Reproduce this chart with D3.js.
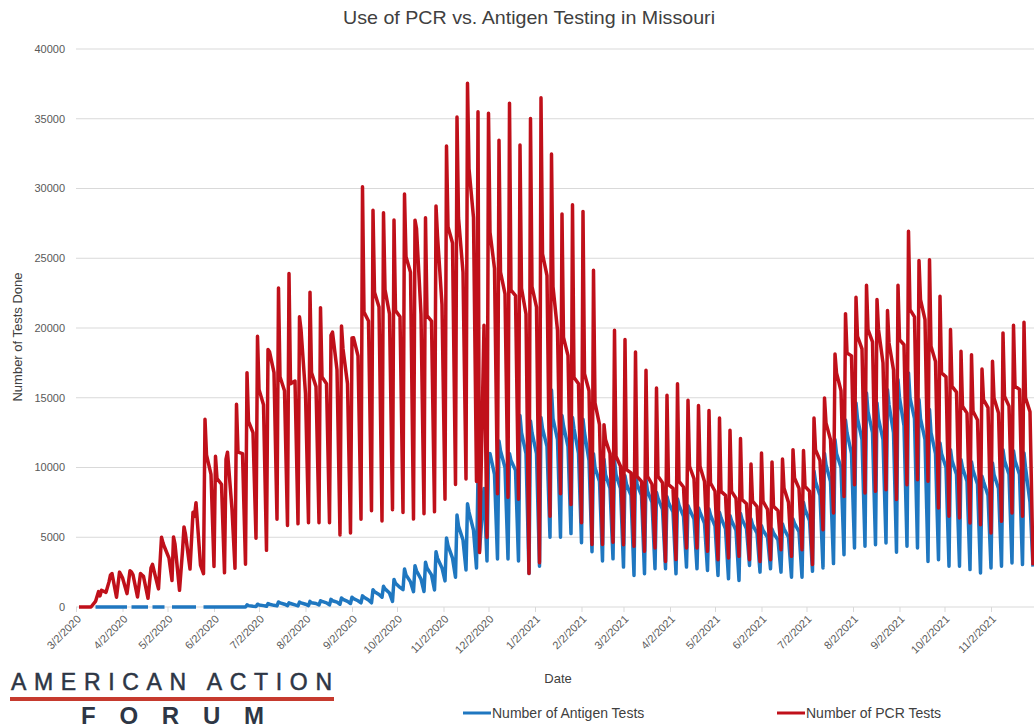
<!DOCTYPE html>
<html>
<head>
<meta charset="utf-8">
<script src="https://cdn.jsdelivr.net/npm/d3@7"></script>
<style>
  body { margin: 0; background: #fff; }
  svg { display: block; font-family: "Liberation Sans", Arial, sans-serif; }
</style>
</head>
<body>
<svg id="chart" width="1034" height="728"></svg>
<script>
// Weekly readings, one entry per week starting 3/4/2020.
// Each week is drawn as 4 daily points: day 0, day 1, day 4 and day 6.
const pcrPeak = [
  0, 0, 800, 2300, 2300, 2500, 2300, 3060, 4600, 5020,
  5740, 6500, 13460, 10800, 10600, 14530, 16800, 19400, 18460, 22870,
  23900, 20800, 22570, 21460, 19480, 20150, 19280, 30120, 28440, 28260,
  27740, 29600, 27730, 27910, 28750, 33040, 35130, 37550, 35500, 35390,
  33460, 36120, 33120, 35020, 36510, 32470, 28180, 28830, 28360, 24140,
  13070, 19840, 19170, 18280, 16970, 15700, 15180, 16010, 14820, 14440,
  14080, 13550, 12670, 12070, 10250, 11040, 10400, 10610, 11280, 11210,
  13550, 14990, 18140, 21030, 22200, 23060, 22040, 21250, 23060, 26940,
  24830, 24900, 22270, 19890, 18330, 18090, 17060, 17610, 19650, 20200,
  20410
];
const pcrNext = [
  0, 0, 1200, 2400, 2100, 2300, 2200, 2600, 4300, 4500,
  5200, 7480, 10900, 9200, 11100, 11100, 13300, 15600, 18300, 16500,
  16000, 19900, 16800, 16500, 19700, 18500, 19300, 21140, 22570, 22750,
  21260, 25100, 27130, 20880, 26610, 27260, 27910, 31430, 3900, 26870,
  24010, 22710, 22840, 22970, 25310, 22970, 19320, 16460, 16720, 14630,
  12000, 10800, 9850, 9370, 9370, 9370, 8770, 9010, 10090, 10090,
  8890, 8290, 8290, 7700, 7600, 7580, 7220, 8530, 9250, 8650,
  11280, 13190, 16780, 18210, 19410, 19880, 19880, 18930, 19170, 21320,
  22040, 18690, 16780, 15820, 14390, 14030, 14870, 14990, 15100, 15820,
  15000
];
const pcrLate = [
  0, 400, 1050, 700, 960, 720, 620, 1300, 3500, 1200,
  2720, 3000, 9500, 8800, 7000, 11000, 12500, 14500, 16800, 15500,
  16200, 15300, 15800, 16000, 17000, 16000, 18000, 20500, 21500, 21000,
  20800, 24000, 21000, 20500, 21670, 26090, 24000, 27910, 20200, 24270,
  22450, 22320, 21000, 21500, 23750, 19840, 18020, 16000, 15500, 13070,
  11000, 10090, 9610, 9000, 8800, 8900, 8500, 8600, 9200, 9000,
  8300, 8000, 7800, 7400, 7200, 7000, 6900, 7500, 8500, 8300,
  10500, 12000, 15500, 18000, 18500, 19000, 17500, 17000, 18800, 20800,
  20600, 17600, 16500, 15400, 13900, 13400, 14300, 13900, 14400, 15600,
  14000
];
const pcrLow = [
  0, 1100, 1800, 2500, 2600, 2400, 2800, 5000, 1900, 4000,
  6790, 2390, 2900, 2450, 2770, 3070, 4925, 4060, 6290, 5840,
  5960, 6040, 6040, 6040, 5170, 5300, 6290, 6900, 6160, 6980,
  6780, 6300, 6690, 6820, 7730, 8780, 9170, 9000, 5000, 8120,
  7860, 7730, 2400, 3180, 6500, 8120, 7340, 6040, 4480, 4480,
  4640, 4470, 4350, 3990, 4230, 3270, 3400, 4230, 4230, 3990,
  3390, 3510, 3630, 3390, 3270, 3390, 4110, 3630, 4110, 3040,
  5540, 6740, 7930, 8770, 8170, 8290, 8410, 7700, 8770, 9130,
  9010, 7100, 6500, 6380, 6020, 5900, 5310, 6140, 6740, 6500,
  3000
];

// antigen: null = no value reported that day
const agPeak = [
  null, null, 0, 0, 0, 0, 0, 0, 0, 0,
  0, 0, 0, 0, 0, 0, 150, 200, 250, 360,
  300, 350, 400, 450, 550, 650, 700, 800, 1240, 1480,
  1980, 2720, 2960, 3210, 3960, 4950, 6600, 7400, 9430, 10860,
  11900, 10990, 13720, 13330, 13590, 15550, 13720, 13590, 13460, 10990,
  10590, 10500, 9400, 10200, 9160, 8210, 7900, 7740, 7260, 7100,
  7020, 6780, 6550, 6700, 6310, 5830, 5590, 5950, 6300, 7500,
  9750, 11000, 12000, 13400, 14630, 15340, 14630, 15580, 16300, 16780,
  14870, 14150, 11760, 11280, 10560, 10400, 9370, 10320, 11280, 11200,
  11040
];
const agNext = [
  null, null, 0, 0, 0, 0, 0, 0, 0, 0,
  0, 0, 0, 0, 0, 0, 100, 150, 200, 300,
  250, 300, 300, 400, 450, 550, 600, 700, 1100, 1300,
  1700, 2300, 2600, 2800, 3500, 4400, 5800, 6800, 4000, 10990,
  11200, 10500, 12500, 12500, 12800, 13500, 13000, 12800, 12500, 10000,
  9500, 9500, 8800, 8800, 8300, 7800, 7500, 7300, 7000, 6800,
  6600, 6400, 6200, 6300, 5900, 5500, 5300, 5600, 6000, 7000,
  9000, 10200, 11000, 12500, 13500, 14000, 13500, 14500, 15000, 15000,
  13500, 12500, 11000, 10500, 10000, 9800, 9000, 9500, 10500, 10500,
  10000
];
const agLate = [
  null, 0, 0, 0, 0, 0, 0, 0, null, 0,
  0, null, 0, 0, 0, 0, 50, 100, 120, 200,
  150, 200, 250, 300, 350, 400, 450, 500, 900, 1000,
  1400, 1800, 2000, 2300, 2800, 3500, 4800, 5500, 8500, 9500,
  10000, 9800, 11000, 11000, 11500, 12000, 11500, 11000, 10500, 9000,
  8500, 8500, 8000, 8000, 7500, 7000, 6800, 6500, 6300, 6000,
  5800, 5600, 5500, 5600, 5300, 5000, 4800, 5000, 5400, 6200,
  8000, 9000, 10000, 11000, 12000, 12500, 12000, 12500, 13000, 13500,
  12000, 11000, 10000, 9500, 9000, 8800, 8000, 8500, 9500, 9500,
  7500
];
const agLow = [
  null, 0, 0, 0, null, 0, null, 0, 0, 0,
  0, 0, 0, 0, 0, 0, 30, 50, 80, 100,
  80, 100, 150, 150, 200, 250, 300, 300, 700, 400,
  1240, 1100, 1110, 1220, 1870, 2140, 2660, 2790, 3300, 3440,
  3440, 3300, 2400, 2920, 5000, 5000, 5260, 4610, 3960, 3300,
  3450, 2860, 2260, 2380, 2740, 2740, 2380, 2860, 2740, 2620,
  2260, 2020, 1900, 2980, 2500, 2740, 2500, 2140, 2140, 2560,
  2800, 3110, 3750, 4230, 4350, 4470, 4590, 3920, 4350, 4230,
  3270, 3390, 2920, 2920, 2680, 2440, 2800, 2920, 3150, 3040,
  2900
];

const dayOffsets = [0, 1, 4, 6];
const tickLabels = [
  "3/2/2020", "4/2/2020", "5/2/2020", "6/2/2020", "7/2/2020", "8/2/2020",
  "9/2/2020", "10/2/2020", "11/2/2020", "12/2/2020", "1/2/2021", "2/2/2021",
  "3/2/2021", "4/2/2021", "5/2/2021", "6/2/2021", "7/2/2021", "8/2/2021",
  "9/2/2021", "10/2/2021", "11/2/2021"
];
const yTicks = [0, 5000, 10000, 15000, 20000, 25000, 30000, 35000, 40000];

const parse = d3.timeParse("%m/%d/%Y");
const start = parse("3/2/2020");
const end = parse("11/30/2021");

const svg = d3.select("#chart");
const x = d3.scaleTime().domain([start, end]).range([76, 1033]);
const y = d3.scaleLinear().domain([0, 40000]).range([607, 49]);

function buildSeries(cols) {
  const pts = [];
  for (let w = 0; w < cols[0].length; w++) {
    for (let k = 0; k < 4; k++) {
      pts.push({
        date: d3.timeDay.offset(start, 2 + 7 * w + dayOffsets[k]),
        value: cols[k][w]
      });
    }
  }
  return pts;
}
const antigen = buildSeries([agPeak, agNext, agLate, agLow]);
const pcr = buildSeries([pcrPeak, pcrNext, pcrLate, pcrLow]);

// title
svg.append("text")
  .attr("x", 529).attr("y", 24)
  .attr("text-anchor", "middle")
  .attr("font-size", 19)
  .attr("fill", "#404040")
  .attr("textLength", 372)
  .attr("lengthAdjust", "spacingAndGlyphs")
  .text("Use of PCR vs. Antigen Testing in Missouri");

// gridlines + y labels
svg.append("g")
  .selectAll("line")
  .data(yTicks.filter(d => d > 0))
  .join("line")
  .attr("x1", 76).attr("x2", 1034)
  .attr("y1", d => y(d)).attr("y2", d => y(d))
  .attr("stroke", "#d9d9d9").attr("stroke-width", 1);

svg.append("g")
  .selectAll("text")
  .data(yTicks)
  .join("text")
  .attr("x", 65).attr("y", d => y(d))
  .attr("dy", "0.35em")
  .attr("text-anchor", "end")
  .attr("font-size", 11)
  .attr("fill", "#595959")
  .text(d => d);

svg.append("text")
  .attr("transform", "translate(22,337) rotate(-90)")
  .attr("text-anchor", "middle")
  .attr("font-size", 13)
  .attr("fill", "#404040")
  .text("Number of Tests Done");

// x axis
const xAxis = svg.append("g")
  .attr("transform", "translate(0,607)")
  .call(d3.axisBottom(x)
    .tickValues(tickLabels.map(parse))
    .tickSize(5)
    .tickFormat(""));
xAxis.select(".domain").attr("stroke", "#d9d9d9").attr("d", "M76,0H1034");
xAxis.selectAll(".tick line").attr("stroke", "#d9d9d9");

svg.append("g")
  .selectAll("text")
  .data(tickLabels)
  .join("text")
  .attr("transform", d => `translate(${x(parse(d)) + 3},617) rotate(-45)`)
  .attr("text-anchor", "end")
  .attr("dy", "0.35em")
  .attr("font-size", 11)
  .attr("fill", "#595959")
  .text(d => d);

svg.append("text")
  .attr("x", 558).attr("y", 683)
  .attr("text-anchor", "middle")
  .attr("font-size", 13)
  .attr("fill", "#404040")
  .text("Date");

// lines
const line = d3.line()
  .defined(d => d.value !== null)
  .x(d => x(d.date))
  .y(d => y(d.value));

svg.append("path")
  .datum(antigen)
  .attr("d", line)
  .attr("fill", "none")
  .attr("stroke", "#1f77c0")
  .attr("stroke-width", 3.5)
  .attr("stroke-linejoin", "round");

svg.append("path")
  .datum(pcr)
  .attr("d", line)
  .attr("fill", "none")
  .attr("stroke", "#c0101a")
  .attr("stroke-width", 3.5)
  .attr("stroke-linejoin", "round");

// legend
const legend = [
  { label: "Number of Antigen Tests", color: "#1f77c0", x: 463 },
  { label: "Number of PCR Tests", color: "#c0101a", x: 777 }
];
const lg = svg.append("g").selectAll("g").data(legend).join("g");
lg.append("line")
  .attr("x1", d => d.x).attr("x2", d => d.x + 28)
  .attr("y1", 713).attr("y2", 713)
  .attr("stroke", d => d.color).attr("stroke-width", 3);
lg.append("text")
  .attr("x", d => d.x + 29).attr("y", 718)
  .attr("font-size", 14)
  .attr("fill", "#404040")
  .text(d => d.label);

// logo
svg.append("text")
  .attr("x", 11).attr("y", 690)
  .attr("font-size", 23)
  .attr("fill", "#2d3645")
  .attr("stroke", "#2d3645")
  .attr("stroke-width", 0.5)
  .attr("textLength", 321)
  .attr("lengthAdjust", "spacing")
  .text("AMERICAN ACTION");
svg.append("rect")
  .attr("x", 10).attr("y", 697)
  .attr("width", 324).attr("height", 4)
  .attr("fill", "#c63a2e");
svg.append("text")
  .attr("x", 81).attr("y", 724)
  .attr("font-size", 24)
  .attr("font-weight", "bold")
  .attr("fill", "#2d3645")
  .attr("textLength", 183)
  .attr("lengthAdjust", "spacing")
  .text("FORUM");
</script>
</body>
</html>
